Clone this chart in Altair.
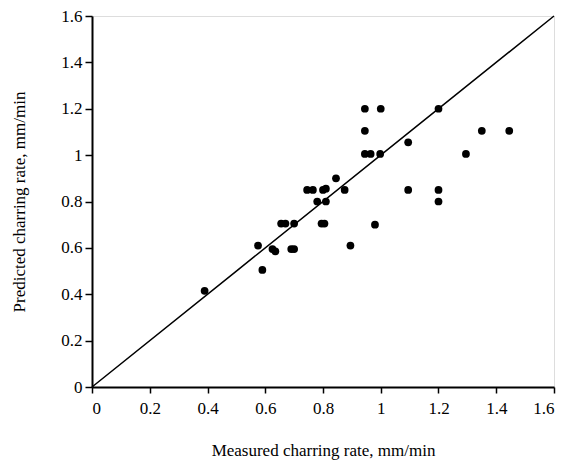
import altair as alt
import pandas as pd

measured = [0.39, 0.575, 0.59, 0.625, 0.635, 0.655, 0.67, 0.69, 0.70, 0.70,
            0.745, 0.765, 0.78, 0.80, 0.81, 0.795, 0.805, 0.81, 0.845, 0.875,
            0.895, 0.945, 0.945, 0.945, 0.965, 0.98, 0.998, 1.0, 1.095, 1.095,
            1.20, 1.20, 1.20, 1.295, 1.35, 1.445]
predicted = [0.415, 0.61, 0.505, 0.595, 0.585, 0.705, 0.705, 0.595, 0.595, 0.705,
             0.85, 0.85, 0.80, 0.85, 0.855, 0.705, 0.705, 0.80, 0.90, 0.85,
             0.61, 1.20, 1.105, 1.005, 1.005, 0.70, 1.005, 1.20, 1.055, 0.85,
             1.20, 0.85, 0.80, 1.005, 1.105, 1.105]

line_x = [0, 0.5, 1.1, 1.6]
line_y = [0, 0.5, 1.1, 1.6]

ticks = [0, 0.2, 0.4, 0.6, 0.8, 1.0, 1.2, 1.4, 1.6]

pts = pd.DataFrame({"m": measured, "p": predicted})
ln = pd.DataFrame({"m": line_x, "p": line_y})

font = "Liberation Serif"

xscale = alt.Scale(domain=[0, 1.6], nice=False, zero=False)
yscale = alt.Scale(domain=[0, 1.6], nice=False, zero=False)

lab = "datum.value == 1 ? '1' : datum.value == 0 ? '0' : format(datum.value, '.1f')"

xaxis = alt.Axis(values=ticks, grid=False, title="Measured charring rate, mm/min",
                 labelExpr=lab, tickSize=6, labelPadding=7, titlePadding=26)
yaxis = alt.Axis(values=ticks, grid=False, title="Predicted charring rate, mm/min",
                 labelExpr=lab, tickSize=7, labelPadding=3, titlePadding=32)

line = alt.Chart(ln).mark_line(color="black", strokeWidth=1.5).encode(
    x=alt.X("m:Q", scale=xscale, axis=xaxis),
    y=alt.Y("p:Q", scale=yscale, axis=yaxis),
)
points = alt.Chart(pts).mark_circle(color="black", opacity=1, size=60).encode(
    x=alt.X("m:Q", scale=xscale),
    y=alt.Y("p:Q", scale=yscale),
)

chart = (line + points).properties(
    width=462, height=371,
    autosize=alt.AutoSizeParams(type="none"),
    padding={"left": 84, "top": 8, "right": 10, "bottom": 78},
).configure_view(stroke="black", strokeWidth=1).configure(
    background="white", font=font
).configure_axis(
    labelFont=font, labelFontSize=17, labelColor="black",
    titleFont=font, titleFontSize=17, titleFontWeight="normal", titleColor="black",
    domainWidth=2, domainColor="black", tickColor="black", tickWidth=1.5,
)

chart.save("out.html", embed_options={"renderer": "svg", "actions": False})
